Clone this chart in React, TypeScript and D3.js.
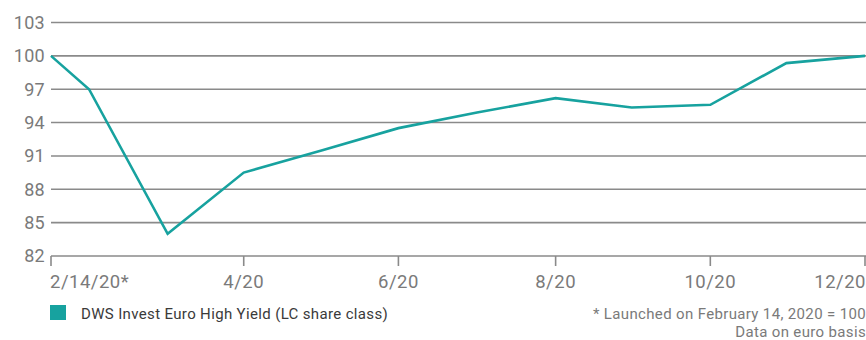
import React from "react";
import * as d3 from "d3";

const dates = [
  "2020-02-14", "2020-02-29", "2020-03-31", "2020-04-30", "2020-05-31", "2020-06-30",
  "2020-07-31", "2020-08-31", "2020-09-30", "2020-10-31", "2020-11-30", "2020-12-31",
];
const values = [100, 97.0, 84.0, 89.5, 91.5, 93.5, 94.9, 96.2, 95.35, 95.6, 99.35, 100.0];
const yTicks = [82, 85, 88, 91, 94, 97, 100, 103];
const xTickDates = ["2020-02-14", "2020-04-30", "2020-06-30", "2020-08-31", "2020-10-31", "2020-12-31"];
const xTickLabels = ["2/14/20*", "4/20", "6/20", "8/20", "10/20", "12/20"];
const seriesName = "DWS Invest Euro High Yield (LC share class)";
const notes = ["* Launched on February 14, 2020 = 100", "Data on euro basis"];

const W = 866;
const H = 340;
const M = { left: 51, right: 865, top: 22.5, bottom: 256 };
const LINE = "#17a29f";
const GRID = "#8a8a8a";
const TEXT = "#7a7a7a";
const FONT = "Roboto, 'Open Sans', sans-serif";

export default function App() {
  const parse = d3.utcParse("%Y-%m-%d");
  const x = d3
    .scaleUtc()
    .domain([parse(dates[0])!, parse(dates[dates.length - 1])!])
    .range([M.left, M.right]);
  const y = d3.scaleLinear().domain([82, 103]).range([M.bottom, M.top]);
  const data = dates.map((d, i) => ({ d: parse(d)!, v: values[i] }));
  const line = d3
    .line<{ d: Date; v: number }>()
    .x((p) => x(p.d))
    .y((p) => y(p.v));

  return (
    <svg
      width={W}
      height={H}
      style={{ position: "absolute", left: 0, top: 0, background: "#fff" }}
      fontFamily={FONT}
    >
      {yTicks.map((t) => (
        <g key={t}>
          {t !== 82 && (
            <line x1={M.left} x2={W} y1={y(t)} y2={y(t)} stroke={GRID} strokeWidth={1.6} />
          )}
          <text x={45} y={y(t)} dy="0.36em" textAnchor="end" fontSize={18} letterSpacing={0.3} fill={TEXT}>
            {t}
          </text>
        </g>
      ))}
      <line x1={M.left} x2={W} y1={y(82)} y2={y(82)} stroke={GRID} strokeWidth={1.6} />
      {xTickDates.map((d, i) => {
        const xp = Math.min(x(parse(d)!), W - 1);
        const anchor = i === 0 ? "start" : i === xTickDates.length - 1 ? "end" : "middle";
        return (
          <g key={d}>
            <line x1={xp} x2={xp} y1={y(82)} y2={y(82) + 10} stroke={GRID} strokeWidth={1.6} />
            <text
              x={i === 0 ? xp - 1 : i === xTickDates.length - 1 ? W : xp}
              y={288}
              textAnchor={anchor}
              fontSize={18.5}
              letterSpacing={0.5}
              fill={TEXT}
            >
              {xTickLabels[i]}
            </text>
          </g>
        );
      })}
      <path d={line(data) ?? ""} fill="none" stroke={LINE} strokeWidth={2.6} strokeLinejoin="miter" />
      <rect x={50} y={305} width={16} height={15} fill={LINE} />
      <text x={81} y={319} fontSize={15} letterSpacing={0.35} fill="#3a3a3a">
        {seriesName}
      </text>
      {notes.map((n, i) => (
        <text key={n} x={W} y={319 + i * 17.5} textAnchor="end" fontSize={15} letterSpacing={0.35} fill={TEXT}>
          {n}
        </text>
      ))}
    </svg>
  );
}
